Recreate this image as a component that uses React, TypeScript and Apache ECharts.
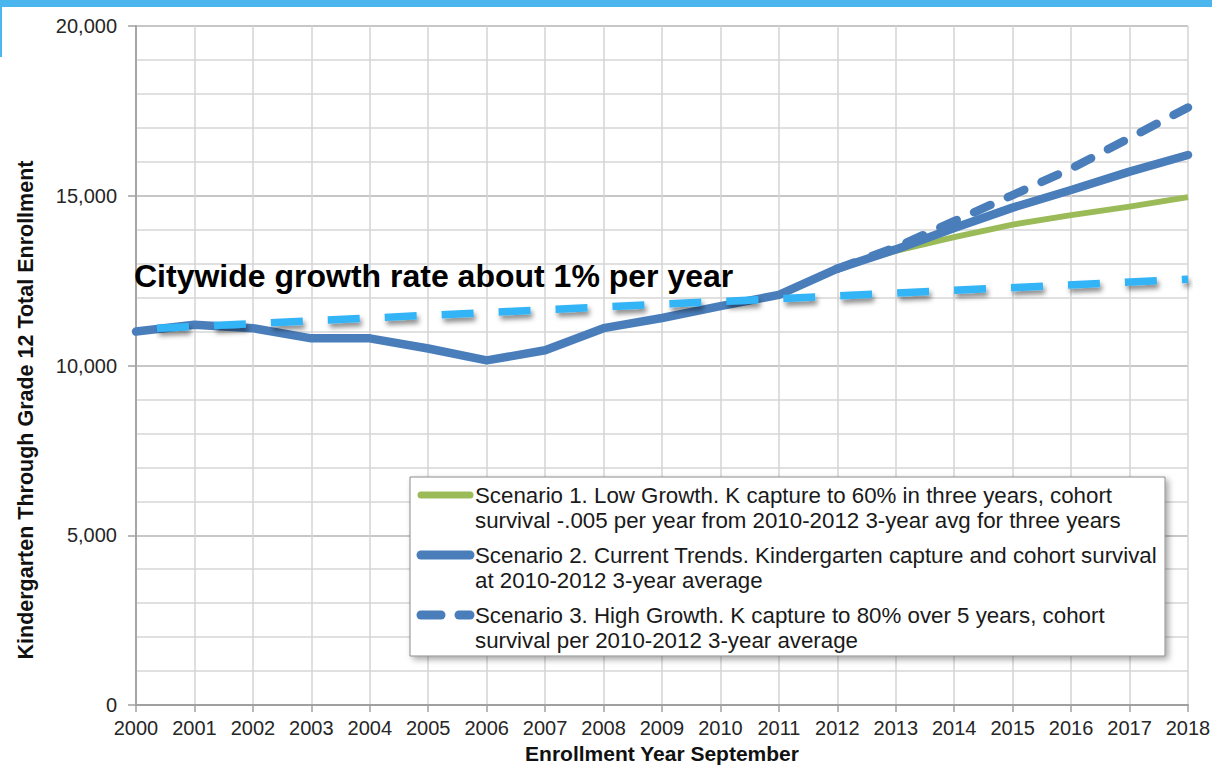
import React, { useEffect, useRef } from "react";
import * as echarts from "echarts";

const FONT = "Liberation Sans, Arial, Helvetica, sans-serif";

// Actual enrollment, September of each year
const histYears = [2000, 2001, 2002, 2003, 2004, 2005, 2006, 2007, 2008, 2009, 2010, 2011, 2012];
const histValues = [11000, 11200, 11100, 10800, 10800, 10500, 10150, 10450, 11100, 11400, 11750, 12080, 12850];

// Projection scenarios
const projYears = [2012, 2013, 2014, 2015, 2016, 2017, 2018];
const scenario1 = [12850, 13380, 13780, 14150, 14430, 14680, 14960];
const scenario2 = [12850, 13420, 14050, 14650, 15170, 15710, 16200];
const scenario3 = [12850, 13480, 14250, 15020, 15800, 16700, 17600];

// Citywide ~1% growth reference line (endpoints)
const cityYears = [2000, 2018];
const cityValues = [11070, 12540];

const legendLines = [
  ["Scenario 1. Low Growth. K capture to 60% in three years, cohort", "survival -.005 per year from 2010-2012 3-year avg for three years"],
  ["Scenario 2. Current Trends. Kindergarten capture and cohort survival", "at 2010-2012 3-year average"],
  ["Scenario 3. High Growth. K capture to 80% over 5 years, cohort", "survival per 2010-2012 3-year average"],
];

const annotation = "Citywide growth rate about 1% per year";
const xAxisTitle = "Enrollment Year September";
const yAxisTitle = "Kindergarten Through Grade 12 Total Enrollment";

const BLUE = "#4a7ebb";
const GREEN = "#9bbb59";
const LIGHT = "#30b4f7";

const pairs = (xs: number[], ys: number[]) => xs.map((x, i) => [x, ys[i]]);

export default function App() {
  const ref = useRef<HTMLDivElement>(null);
  useEffect(() => {
    if (!ref.current) return;
    const chart = echarts.init(ref.current, undefined, { renderer: "svg" });
    const legendX = 410;
    const legendY = 477;
    const rowY = [495, 555, 615];
    const graphic: any[] = [
      { type: "rect", shape: { x: 0, y: 0, width: 1212, height: 7 }, style: { fill: "#4bb6ee" }, z: 10 },
      { type: "rect", shape: { x: 0, y: 0, width: 2, height: 57 }, style: { fill: "#4bb6ee" }, z: 10 },
      {
        type: "text",
        x: 134,
        y: 276,
        style: { text: annotation, font: `bold 32px ${FONT}`, fill: "#000", verticalAlign: "middle", align: "left" },
        z: 20,
      },
      {
        type: "text",
        x: 26,
        y: 410,
        rotation: Math.PI / 2,
        style: { text: yAxisTitle, font: `bold 21.5px ${FONT}`, fill: "#111", verticalAlign: "middle", align: "center" },
      },
      {
        type: "rect",
        shape: { x: legendX, y: legendY, width: 755, height: 179 },
        style: {
          fill: "#fff",
          stroke: "#8c8c8c",
          lineWidth: 1,
          shadowBlur: 6,
          shadowOffsetX: 3,
          shadowOffsetY: 3,
          shadowColor: "rgba(0,0,0,0.35)",
        },
        z: 30,
      },
      { type: "line", shape: { x1: 421, y1: rowY[0], x2: 470, y2: rowY[0] }, style: { stroke: GREEN, lineWidth: 7, lineCap: "round" }, z: 31 },
      { type: "line", shape: { x1: 421, y1: rowY[1], x2: 470, y2: rowY[1] }, style: { stroke: BLUE, lineWidth: 9, lineCap: "round" }, z: 31 },
      { type: "line", shape: { x1: 421, y1: rowY[2], x2: 441, y2: rowY[2] }, style: { stroke: BLUE, lineWidth: 9, lineCap: "round" }, z: 31 },
      { type: "line", shape: { x1: 459, y1: rowY[2], x2: 470, y2: rowY[2] }, style: { stroke: BLUE, lineWidth: 9, lineCap: "round" }, z: 31 },
    ];
    legendLines.forEach((lines, i) => {
      lines.forEach((t, j) => {
        graphic.push({
          type: "text",
          x: 475,
          y: rowY[i] + j * 25,
          style: { text: t, font: `22.3px ${FONT}`, fill: "#1a1a1a", verticalAlign: "middle", align: "left" },
          z: 31,
        });
      });
    });

    chart.setOption({
      animation: false,
      backgroundColor: "#fff",
      grid: { left: 136, right: 24, top: 26, bottom: 61, containLabel: false, outerBoundsMode: "none" },
      xAxis: {
        type: "value",
        min: 2000,
        max: 2018,
        interval: 1,
        name: xAxisTitle,
        nameLocation: "middle",
        nameGap: 37,
        nameTextStyle: { fontFamily: FONT, fontWeight: "bold", fontSize: 21, color: "#111" },
        axisLine: { show: true, onZero: false, lineStyle: { color: "#a0a0a0", width: 2 } },
        axisTick: { show: true, length: 7, lineStyle: { color: "#a0a0a0", width: 1.5 } },
        axisLabel: { formatter: (v: number) => String(v), fontFamily: FONT, fontSize: 20, color: "#262626", margin: 13 },
        splitLine: { show: true, lineStyle: { color: "#d4d4d4", width: 1.5 } },
      },
      yAxis: {
        type: "value",
        min: 0,
        max: 20000,
        interval: 5000,
        axisLine: { show: true, lineStyle: { color: "#a6a6a6", width: 2 } },
        axisTick: { show: true, length: 8, lineStyle: { color: "#a0a0a0", width: 1.5 } },
        axisLabel: {
          formatter: (v: number) => v.toLocaleString("en-US"),
          fontFamily: FONT,
          fontSize: 20,
          color: "#262626",
          margin: 19,
        },
        splitLine: { show: true, lineStyle: { color: "#b4b4b4", width: 1.5 } },
        minorTick: { show: false, splitNumber: 5 },
        minorSplitLine: { show: true, lineStyle: { color: "#d6d6d6", width: 1.5 } },
      },
      series: [
        {
          name: "Actual",
          type: "line",
          data: pairs(histYears, histValues),
          showSymbol: false,
          lineStyle: { color: BLUE, width: 8.5, join: "round", cap: "round" },
          z: 2,
        },
        {
          name: "Scenario 1",
          type: "line",
          data: pairs(projYears, scenario1),
          showSymbol: false,
          lineStyle: { color: GREEN, width: 6, join: "round" },
          z: 3,
        },
        {
          name: "Scenario 2",
          type: "line",
          data: pairs(projYears, scenario2),
          showSymbol: false,
          lineStyle: { color: BLUE, width: 8.5, join: "round", cap: "round" },
          z: 4,
        },
        {
          name: "Scenario 3",
          type: "line",
          data: pairs(projYears, scenario3),
          showSymbol: false,
          lineStyle: { color: BLUE, width: 8.5, type: [18, 19], cap: "round", join: "round" },
          z: 5,
        },
        {
          name: "Citywide 1%",
          type: "line",
          data: pairs(cityYears, cityValues),
          showSymbol: false,
          lineStyle: {
            color: LIGHT,
            width: 7.5,
            type: [32, 25],
            dashOffset: 36,
            shadowColor: "rgba(0,0,0,0.45)",
            shadowBlur: 5,
            shadowOffsetX: 2,
            shadowOffsetY: 4,
          },
          z: 6,
        },
      ],
      graphic,
    });
    return () => chart.dispose();
  }, []);
  return <div ref={ref} style={{ position: "absolute", left: 0, top: 0, width: 1212, height: 766 }} />;
}
